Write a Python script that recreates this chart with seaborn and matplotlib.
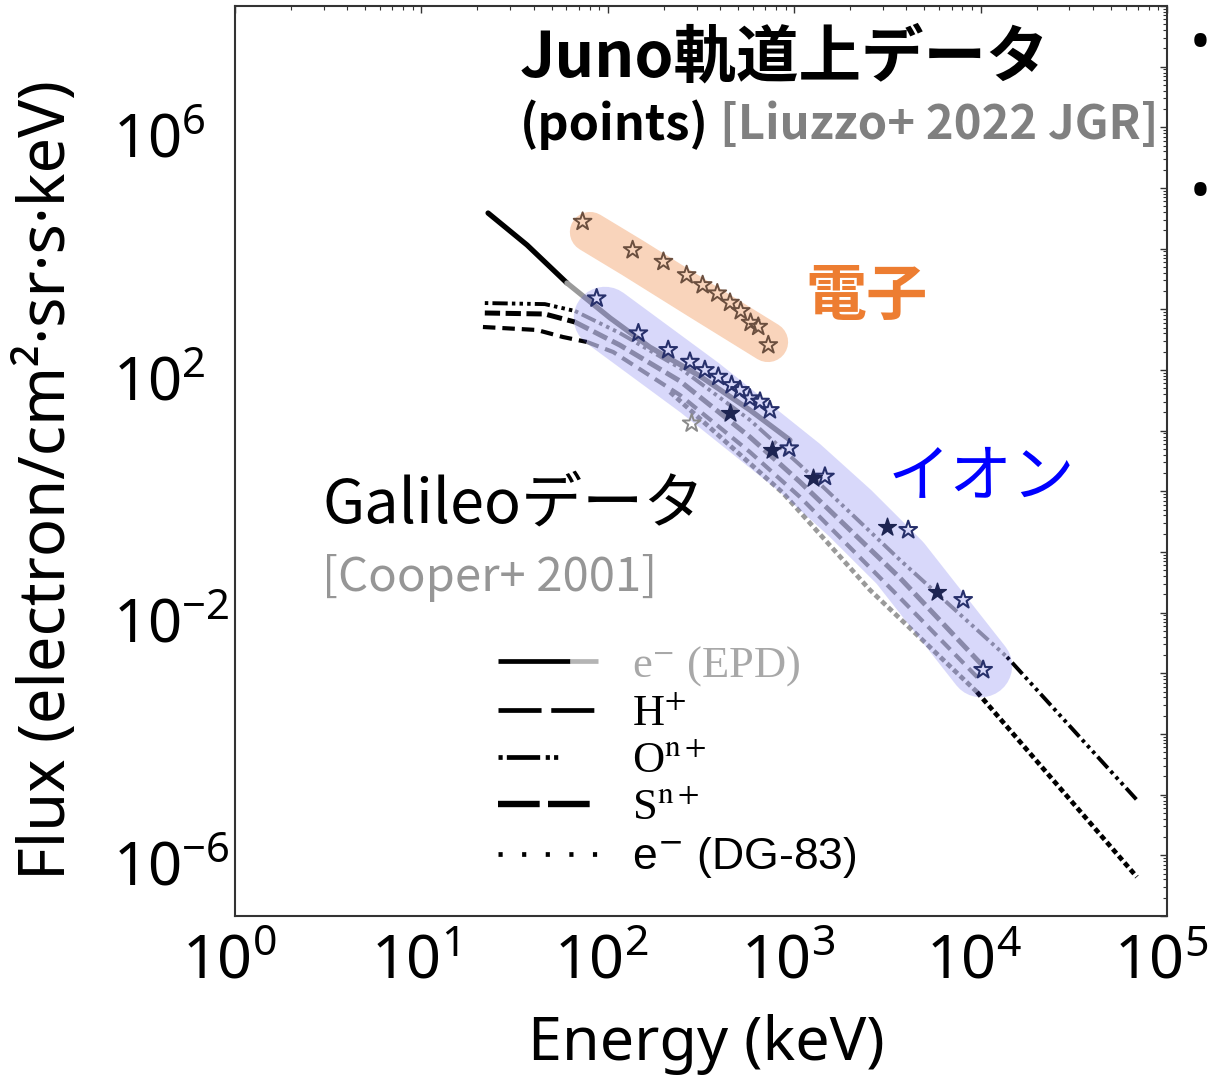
import numpy as np
import pandas as pd
import matplotlib
matplotlib.use("Agg")
import matplotlib.pyplot as plt
import matplotlib.transforms as mtransforms
import seaborn as sns
from matplotlib.lines import Line2D
from matplotlib.legend_handler import HandlerBase
from matplotlib.ticker import LogLocator, NullFormatter

# ---------------------------------------------------------------------------
# Galileo model spectra (Cooper+ 2001): energy [keV], flux [1/(cm^2 sr s keV)]
# ---------------------------------------------------------------------------
epd_energy = [22.8, 36.9, 60.4, 103, 168, 312, 579, 950]
epd_flux = [3.87e4, 1.15e4, 2.72e3, 720, 239, 79.6, 21.9, 7.0]

h_energy = [21.4, 41.7, 57.5, 77.3, 107, 244, 579, 1075, 3700, 9930]
h_flux = [512, 457, 350, 290, 198, 38.7, 4.45, 0.807, 0.0175, 7.77e-4]

o_energy = [21.9, 46.0, 66.7, 116, 244, 579, 1075, 3700, 13870, 69000]
o_flux = [1270, 1220, 940, 407, 108, 15.0, 2.72, 0.0738, 1.86e-3, 8.18e-6]

s_energy = [21.9, 46.0, 66.7, 116, 244, 579, 1075, 3700, 10560]
s_flux = [871, 838, 618, 258, 65.9, 7.87, 1.43, 0.0373, 1.22e-3]

dg_energy = [216, 871, 2550, 9570, 69000]
dg_flux = [43.4, 0.94, 0.0237, 4.93e-4, 4.40e-7]

# ---------------------------------------------------------------------------
# Juno in-orbit data (Liuzzo+ 2022)
# ---------------------------------------------------------------------------
juno_e_energy = [73.3, 136, 199, 265, 323, 387, 453, 517, 584, 642, 727]
juno_e_flux = [2.79e4, 9.5e3, 6.1e3, 3.68e3, 2.52e3, 1.84e3, 1.29e3, 940, 603, 518, 258]

ion_open_energy = [87.2, 146, 211, 276, 332, 392, 462, 512, 579, 656, 741,
                   941, 1463, 4093, 8072, 10330]
ion_open_flux = [1520, 403, 214, 137, 100, 77.6, 56.6, 46.9, 34.2, 30.1, 21.9,
                 5.13, 1.75, 0.231, 0.0162, 1.14e-3]
ion_filled_energy = [453, 757, 1266, 3134, 5808]
ion_filled_flux = [19.4, 4.81, 1.64, 0.262, 0.0222]
ion_gray_energy = [282]
ion_gray_flux = [13.2]

# highlight strokes behind the Juno points
e_band_energy = [80.3, 136.5, 312.6, 724]
e_band_flux = [1.88e4, 7.02e3, 1.43e3, 290]
ion_band_energy = [96.6, 312.6, 1075, 1992, 3700, 10050]
ion_band_flux = [720, 50.5, 2.43, 0.44, 0.0659, 1.32e-3]

# axis ticks
x_tick_values = [1, 10, 100, 1e3, 1e4, 1e5]
x_tick_labels = [r"$\mathregular{10^{0}}$", r"$\mathregular{10^{1}}$",
                 r"$\mathregular{10^{2}}$", r"$\mathregular{10^{3}}$",
                 r"$\mathregular{10^{4}}$", r"$\mathregular{10^{5}}$"]
y_decade_exponents = list(range(-7, 9))
y_labelled = {6: r"$\mathregular{10^{6}}$", 2: r"$\mathregular{10^{2}}$",
              -2: r"$\mathregular{10^{-2}}$", -6: r"$\mathregular{10^{-6}}$"}

legend_labels = ["e$^{-}$ (EPD)", r"H$^{+}$", r"O$^{\mathrm{n+}}$",
                 r"S$^{\mathrm{n+}}$", "e$^{-}$ (DG-83)"]

# ---------------------------------------------------------------------------
sns.set_style("white")
plt.rcParams["font.family"] = ["Noto Sans", "DejaVu Sans"]
plt.rcParams["mathtext.fontset"] = "custom"
plt.rcParams["mathtext.rm"] = "Noto Sans"
plt.rcParams["mathtext.it"] = "Noto Sans:italic"
plt.rcParams["mathtext.bf"] = "Noto Sans:bold"
plt.rcParams["lines.scale_dashes"] = False
for key in ("text.color", "axes.labelcolor", "xtick.color", "ytick.color"):
    plt.rcParams[key] = "black"

JP = ["Noto Sans CJK JP", "DejaVu Sans"]
GRAY_LINE = "#9a9a9a"
BLACK_BELOW = 70.0      # keV, curves drawn black below this energy
BLACK_ABOVE = 9500.0    # keV, and above this one

fig = plt.figure(figsize=(12.13, 10.76), dpi=100)
ax = fig.add_axes([0.1937, 0.1487, 0.7683, 0.8457])
ax.set_xscale("log")
ax.set_yscale("log")
ax.set_xlim(1, 1e5)
ax.set_ylim(1e-7, 1e8)


def draw_curve(energy, flux, linestyle, width):
    e = np.asarray(energy, dtype=float)
    f = np.asarray(flux, dtype=float)
    mid = np.sqrt(e[:-1] * e[1:])
    dark = (mid < BLACK_BELOW) | (mid > BLACK_ABOVE)
    start = 0
    for i in range(1, len(dark) + 1):
        if i == len(dark) or dark[i] != dark[start]:
            seg = pd.DataFrame({"E": e[start:i + 1], "F": f[start:i + 1]})
            sns.lineplot(data=seg, x="E", y="F", ax=ax, estimator=None, sort=False,
                         color="black" if dark[start] else GRAY_LINE,
                         linewidth=width, linestyle=linestyle, zorder=2)
            start = i


draw_curve(epd_energy, epd_flux, "-", 3.8)
draw_curve(o_energy, o_flux, (0, (2.5, 3, 11, 3, 2.5, 3, 2.5, 3)), 2.8)
draw_curve(s_energy, s_flux, (0, (11, 4)), 3.6)
draw_curve(h_energy, h_flux, (0, (9, 5)), 3.0)
draw_curve(dg_energy, dg_flux, (0, (4, 2.5)), 3.4)

# translucent highlight strokes
sns.lineplot(x=e_band_energy, y=e_band_flux, ax=ax, estimator=None, sort=False,
             color="#ED7D31", alpha=0.33, linewidth=29, solid_capstyle="round",
             solid_joinstyle="round", zorder=3)
sns.lineplot(x=ion_band_energy, y=ion_band_flux, ax=ax, estimator=None, sort=False,
             color="#4b4bea", alpha=0.21, linewidth=45, solid_capstyle="round",
             solid_joinstyle="round", zorder=3)

# Juno points
sns.scatterplot(x=juno_e_energy, y=juno_e_flux, ax=ax, marker="*", s=180,
                facecolor="none", edgecolor="#6b4f3f", linewidth=1.4, zorder=5)
sns.scatterplot(x=ion_open_energy, y=ion_open_flux, ax=ax, marker="*", s=180,
                facecolor="none", edgecolor="#27306b", linewidth=1.5, zorder=5)
sns.scatterplot(x=ion_filled_energy, y=ion_filled_flux, ax=ax, marker="*", s=180,
                facecolor="#1d2452", edgecolor="#1d2452", linewidth=1.0, zorder=5)
sns.scatterplot(x=ion_gray_energy, y=ion_gray_flux, ax=ax, marker="*", s=180,
                facecolor="none", edgecolor="#8a8a8a", linewidth=1.4, zorder=5)

# axes, ticks
ax.set_xticks(x_tick_values, x_tick_labels)
y_ticks = [10.0 ** k for k in y_decade_exponents]
ax.set_yticks(y_ticks, [y_labelled.get(k, "") for k in y_decade_exponents])
ax.xaxis.set_minor_locator(LogLocator(base=10, subs=np.arange(2, 10), numticks=100))
ax.yaxis.set_minor_locator(LogLocator(base=10, subs=np.arange(2, 10), numticks=100))
ax.xaxis.set_minor_formatter(NullFormatter())
ax.yaxis.set_minor_formatter(NullFormatter())
ax.set_xlim(1, 1e5)
ax.set_ylim(1e-7, 1e8)
ax.tick_params(which="both", direction="in", top=True, right=True, color="#333333")
ax.tick_params(which="major", length=5, width=1.0)
ax.tick_params(which="minor", length=3, width=0.8)
ax.tick_params(axis="x", which="major", labelsize=44, pad=12)
ax.tick_params(axis="y", which="major", labelsize=43, pad=88)
y_shift = mtransforms.ScaledTranslation(0, -7 / 100, fig.dpi_scale_trans)
for lab in ax.get_yticklabels():
    lab.set_horizontalalignment("left")
    lab.set_transform(lab.get_transform() + y_shift)
x_shift = mtransforms.ScaledTranslation(-6 / 100, 0, fig.dpi_scale_trans)
for lab in ax.get_xticklabels():
    lab.set_transform(lab.get_transform() + x_shift)
for sp in ax.spines.values():
    sp.set_color("#333333")
    sp.set_linewidth(1.5)

ax.set_xlabel("Energy (keV)", fontsize=44)
ax.xaxis.set_label_coords(0.5054, -0.108)
ax.set_ylabel("Flux (electron/cm²·sr·s·keV)", fontsize=45.5)
ax.yaxis.set_label_coords(-0.166, 0.479)


# legend for the Galileo curves
class SplitLine(HandlerBase):
    def create_artists(self, legend, orig_handle, xdescent, ydescent,
                       width, height, fontsize, trans):
        y = height / 2 - ydescent
        x0 = -xdescent
        xs = x0 + 0.72 * width
        x1 = x0 + width
        a = Line2D([x0, xs], [y, y], color="black", linewidth=3.4,
                   solid_capstyle="butt", transform=trans)
        b = Line2D([xs, x1], [y, y], color="#b4b4b4", linewidth=3.4,
                   solid_capstyle="butt", transform=trans)
        return [a, b]


epd_proxy = Line2D([], [], color="black")
h_proxy = Line2D([], [], color="black", linewidth=3.4, linestyle=(0, (31, 7)))
o_proxy = Line2D([], [], color="black", linewidth=3.4,
                 linestyle=(0, (3, 3, 24, 4, 3, 3, 3, 30)))
s_proxy = Line2D([], [], color="black", linewidth=4.6, linestyle=(0, (30, 6)))
dg_proxy = Line2D([], [], color="black", linewidth=3.4, linestyle=(0, (3, 14)))

leg = ax.legend([epd_proxy, h_proxy, o_proxy, s_proxy, dg_proxy], legend_labels,
                handler_map={epd_proxy: SplitLine()}, loc="upper left",
                bbox_to_anchor=(0.282, 0.2986), frameon=False, fontsize=32,
                handlelength=2.25, handletextpad=0.78, labelspacing=0.15,
                borderpad=0, borderaxespad=0)
texts = leg.get_texts()
for t in texts[:4]:
    t.set_fontfamily(["Liberation Serif", "DejaVu Serif"])
    t.set_math_fontfamily("stix")
texts[4].set_fontfamily(["Liberation Sans", "DejaVu Sans"])
texts[4].set_math_fontfamily("dejavusans")
texts[0].set_color("#a8a8a8")

# annotations
fig.text(0.4287, 0.9460, "Juno軌道上データ", fontsize=45, fontweight="bold",
         family=JP, va="center", ha="left")
fig.text(0.4287, 0.8838, "(points)", fontsize=35, fontweight="bold",
         family=JP, va="center", ha="left")
fig.text(0.5936, 0.8838, "[Liuzzo+ 2022 JGR]", fontsize=34, fontweight="bold",
         family=JP, va="center", ha="left", color="#808080")
fig.text(0.6636, 0.7240, "電子", fontsize=44, fontweight="bold", family=JP,
         va="center", ha="left", color="#ED7D31")
fig.text(0.7321, 0.5558, "イオン", fontsize=45, family=JP, va="center",
         ha="left", color="#0000FF")
fig.text(0.2655, 0.5307, "Galileoデータ", fontsize=44, family=JP,
         va="center", ha="left", color="black")
fig.text(0.2655, 0.4628, "[Cooper+ 2001]", fontsize=34, family=JP,
         va="center", ha="left", color="#969696")
fig.text(0.998, 0.958, "•", fontsize=40, va="center", ha="right")
fig.text(0.998, 0.8188, "•", fontsize=40, va="center", ha="right")

fig.savefig("out.png", dpi=100)
